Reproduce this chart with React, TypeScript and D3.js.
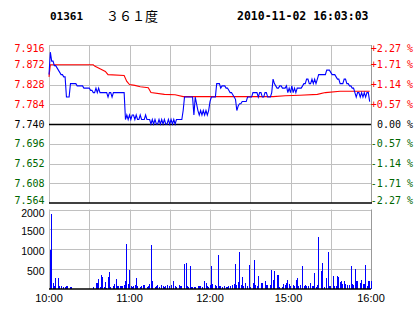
import React from "react";
import * as d3 from "d3";

const prevClose = 7.74;
const priceTicks = [7.916, 7.872, 7.828, 7.784, 7.74, 7.696, 7.652, 7.608, 7.564];
const pctLabels = ["+2.27 %", "+1.71 %", "+1.14 %", "+0.57 %", "0.00 %", "-0.57 %", "-1.14 %", "-1.71 %", "-2.27 %"];
const volTicks = [2000, 1500, 1000, 500];
const timeLabels = ["10:00", "11:00", "12:00", "15:00", "16:00"];
const timeLabelMinutes = [0, 60, 120, 180, 240];
const gridMinutes = [30, 60, 90, 120, 150, 180, 210];

// minute-by-minute last price (m0..m239)
const prices = [
  7.85, 7.9, 7.88, 7.88, 7.87, 7.87, 7.865, 7.86, 7.855, 7.85,
  7.85, 7.845, 7.845, 7.8, 7.8, 7.8, 7.83, 7.83, 7.83, 7.83,
  7.83, 7.825, 7.825, 7.825, 7.825, 7.825, 7.82, 7.82, 7.82, 7.82,
  7.82, 7.815, 7.815, 7.81, 7.81, 7.82, 7.81, 7.82, 7.81, 7.81,
  7.81, 7.81, 7.81, 7.81, 7.8, 7.81, 7.81, 7.8, 7.81, 7.81,
  7.81, 7.81, 7.81, 7.81, 7.81, 7.81, 7.81, 7.75, 7.76, 7.75,
  7.76, 7.75, 7.76, 7.76, 7.75, 7.76, 7.75, 7.75, 7.76, 7.75,
  7.75, 7.75, 7.76, 7.75, 7.75, 7.75, 7.74, 7.75, 7.74, 7.75,
  7.74, 7.74, 7.75, 7.74, 7.75, 7.74, 7.75, 7.74, 7.74, 7.75,
  7.74, 7.75, 7.74, 7.75, 7.74, 7.75, 7.75, 7.75, 7.75, 7.75,
  7.77, 7.8, 7.8, 7.8, 7.8, 7.8, 7.8, 7.8, 7.76, 7.8,
  7.785, 7.77, 7.76, 7.77, 7.76, 7.77, 7.76, 7.77, 7.76, 7.77,
  7.79, 7.8, 7.8, 7.8, 7.8, 7.83, 7.83, 7.83, 7.82, 7.825,
  7.825, 7.825, 7.82, 7.82, 7.815, 7.81, 7.81, 7.805, 7.8, 7.795,
  7.77, 7.78, 7.785, 7.785, 7.79, 7.79, 7.79, 7.79, 7.8, 7.8,
  7.8, 7.8, 7.81, 7.81, 7.81, 7.81, 7.8, 7.81, 7.81, 7.8,
  7.8, 7.81, 7.81, 7.8, 7.8, 7.8, 7.81, 7.84, 7.83, 7.825,
  7.82, 7.82, 7.825, 7.825, 7.82, 7.82, 7.82, 7.825, 7.81, 7.82,
  7.81, 7.825, 7.81, 7.82, 7.81, 7.82, 7.82, 7.82, 7.82, 7.825,
  7.83, 7.83, 7.84, 7.84, 7.83, 7.83, 7.84, 7.83, 7.84, 7.83,
  7.84, 7.85, 7.85, 7.85, 7.85, 7.85, 7.85, 7.86, 7.86, 7.86,
  7.855, 7.85, 7.85, 7.85, 7.845, 7.84, 7.84, 7.83, 7.83, 7.83,
  7.84, 7.84, 7.83, 7.83, 7.825, 7.825, 7.82, 7.82, 7.81, 7.8,
  7.81, 7.81, 7.8, 7.81, 7.8, 7.81, 7.8, 7.81, 7.81, 7.79,
];

// minute-by-minute volume (m0..m239)
const volumes = [
  980, 1880, 160, 80, 270, 0, 270, 85, 85, 0,
  60, 40, 70, 85, 0, 50, 60, 0, 0, 0,
  0, 0, 0, 0, 0, 0, 0, 0, 0, 0,
  0, 0, 40, 0, 150, 150, 245, 40, 350, 310,
  40, 170, 20, 300, 430, 40, 0, 85, 130, 250,
  85, 85, 85, 85, 70, 100, 190, 1130, 125, 470,
  85, 60, 85, 100, 270, 85, 0, 40, 85, 100,
  100, 0, 40, 85, 120, 1100, 190, 0, 40, 85,
  100, 40, 0, 100, 85, 40, 85, 100, 0, 70,
  100, 0, 190, 85, 40, 0, 100, 70, 85, 0,
  630, 650, 70, 40, 575, 40, 40, 40, 40, 0,
  70, 70, 85, 40, 0, 210, 150, 85, 40, 100,
  575, 120, 0, 100, 85, 850, 85, 85, 40, 0,
  85, 40, 40, 70, 85, 0, 100, 130, 620, 100,
  170, 930, 100, 300, 85, 150, 0, 85, 600, 40,
  0, 140, 725, 110, 85, 330, 0, 150, 150, 0,
  210, 100, 100, 0, 110, 470, 235, 450, 0, 355,
  355, 40, 0, 40, 130, 100, 150, 235, 130, 70,
  0, 100, 85, 235, 270, 85, 100, 0, 575, 85,
  110, 70, 70, 0, 150, 85, 70, 390, 40, 100,
  1310, 0, 450, 665, 40, 0, 270, 920, 85, 70,
  0, 330, 85, 85, 330, 300, 170, 190, 130, 190,
  130, 100, 0, 100, 575, 130, 100, 500, 210, 210,
  0, 150, 235, 130, 130, 600, 85, 190, 210, 210,
];

// average price line, read at its turning points
const avgMinutes = [0, 1, 33, 34, 38, 42, 44, 56, 58, 60, 64, 68, 74, 76, 86, 94, 100, 167, 176, 187, 200, 206, 217, 239];
const avgPrices = [7.845, 7.872, 7.872, 7.869, 7.863, 7.857, 7.85, 7.848, 7.835, 7.828, 7.826, 7.823, 7.821, 7.81, 7.806, 7.805, 7.801, 7.801, 7.803, 7.804, 7.806, 7.81, 7.813, 7.813];

const W = 414;
const H = 314;
const left = 49;
const right = 371;
const pTop = 45;
const pBottom = 203;
const vTop = 209.5;
const vBottom = 289;

const RED = "#ff0000";
const GREEN = "#006600";
const GRID = "#c0c0c0";
const MONO = "'DejaVu Sans Mono', 'Liberation Mono', monospace";
const SANS = "'Liberation Sans', Arial, sans-serif";

export default function App() {
  const x = d3.scaleLinear().domain([0, 240]).range([left, right]);
  const y = d3.scaleLinear().domain([7.564, 7.916]).range([pBottom, pTop]);
  const yv = d3.scaleLinear().domain([0, 2000]).range([vBottom, vTop]);

  const priceLine = d3
    .line<number>()
    .x((_, i) => x(i))
    .y((d) => y(d))(prices) as string;

  const avgData = avgMinutes.map((m, i) => [m, avgPrices[i]] as [number, number]);
  const avgLine = d3
    .line<[number, number]>()
    .x((d) => x(d[0]))
    .y((d) => y(d[1]))(avgData) as string;

  const crisp = (v: number) => Math.round(v) + 0.5;
  const colorFor = (p: number) =>
    Math.abs(p - prevClose) < 1e-9 ? "#000" : p > prevClose ? RED : GREEN;

  return (
    <svg
      width={W}
      height={H}
      style={{ position: "absolute", left: 0, top: 0, background: "#fff" }}
    >
      <rect x={0} y={0} width={W} height={H} fill="#fff" />
      {/* header */}
      <text x={50} y={20} fontFamily={MONO} fontWeight="bold" fontSize={11} fill="#000">
        01361
      </text>
      <text x={106} y={21} fontFamily="'Noto Sans CJK SC', sans-serif" fontSize={13} fill="#000">
        ３６１度
      </text>
      <text x={237} y={20} fontFamily={MONO} fontWeight="bold" fontSize={11.5} fill="#000">
        2010-11-02 16:03:03
      </text>

      {/* price panel grid */}
      {priceTicks.map((p, i) => {
        const yy = crisp(y(p));
        const isZero = Math.abs(p - prevClose) < 1e-9;
        const isBottom = i === priceTicks.length - 1;
        if (isZero || isBottom) return null;
        return <line key={"hg" + i} x1={left} x2={right} y1={yy} y2={yy} stroke={GRID} strokeWidth={1} />;
      })}
      {gridMinutes.map((m) => (
        <line key={"vg" + m} x1={crisp(x(m))} x2={crisp(x(m))} y1={pTop} y2={pBottom} stroke={GRID} strokeWidth={1} />
      ))}
      <line x1={crisp(left)} x2={crisp(left)} y1={pTop} y2={pBottom} stroke={GRID} />
      <line x1={crisp(right)} x2={crisp(right)} y1={pTop} y2={pBottom} stroke="#999" />
      <line x1={left} x2={right} y1={crisp(y(prevClose))} y2={crisp(y(prevClose))} stroke="#000" strokeWidth={1.3} />
      <line x1={left} x2={right + 1} y1={pBottom} y2={pBottom} stroke="#000" strokeWidth={1.5} />

      {/* price axes labels */}
      {priceTicks.map((p, i) => {
        const off = i === 0 ? 3 : i === priceTicks.length - 1 ? -3 : 0;
        const yy = y(p) + off + 3.5;
        return (
          <g key={"pl" + i}>
            <text x={44.5} y={yy} textAnchor="end" fontFamily={MONO} fontSize={10} fill={colorFor(p)}>
              {p.toFixed(3)}
            </text>
            <text x={413} y={yy} textAnchor="end" fontFamily={MONO} fontSize={10} fill={colorFor(p)}>
              {pctLabels[i]}
            </text>
          </g>
        );
      })}

      {/* lines */}
      <path d={avgLine} fill="none" stroke={RED} strokeWidth={1.1} />
      <path d={priceLine} fill="none" stroke="#0000ff" strokeWidth={1.1} />

      {/* volume panel */}
      {volTicks.map((v, i) => (
        <line key={"vh" + i} x1={left} x2={right} y1={crisp(yv(v))} y2={crisp(yv(v))} stroke={GRID} />
      ))}
      {gridMinutes.map((m) => (
        <line key={"vv" + m} x1={crisp(x(m))} x2={crisp(x(m))} y1={vTop} y2={vBottom} stroke={GRID} />
      ))}
      <line x1={crisp(left)} x2={crisp(left)} y1={vTop} y2={vBottom} stroke={GRID} />
      <line x1={crisp(right)} x2={crisp(right)} y1={vTop} y2={vBottom} stroke="#999" />
      {volumes.map((v, i) =>
        v > 0 ? (
          <rect
            key={"b" + i}
            x={Math.round(x(i)) + 1}
            y={Math.round(yv(v))}
            width={1}
            height={vBottom - Math.round(yv(v))}
            fill="#0000ff"
            shapeRendering="crispEdges"
          />
        ) : null
      )}
      <line x1={left} x2={right} y1={vBottom} y2={vBottom} stroke="#000" strokeWidth={1.5} />
      {volTicks.map((v, i) => (
        <text
          key={"vl" + i}
          x={44.5}
          y={yv(v) + (i === 0 ? 4 : 2) + 3.5}
          textAnchor="end"
          fontFamily={SANS}
          fontSize={10.5}
          fill="#000"
        >
          {v}
        </text>
      ))}
      {timeLabels.map((t, i) => (
        <text
          key={"tl" + i}
          x={x(timeLabelMinutes[i]) + (i === 3 ? -2 : 0)}
          y={302}
          textAnchor="middle"
          fontFamily={SANS}
          fontSize={11}
          fill="#000"
        >
          {t}
        </text>
      ))}
    </svg>
  );
}
